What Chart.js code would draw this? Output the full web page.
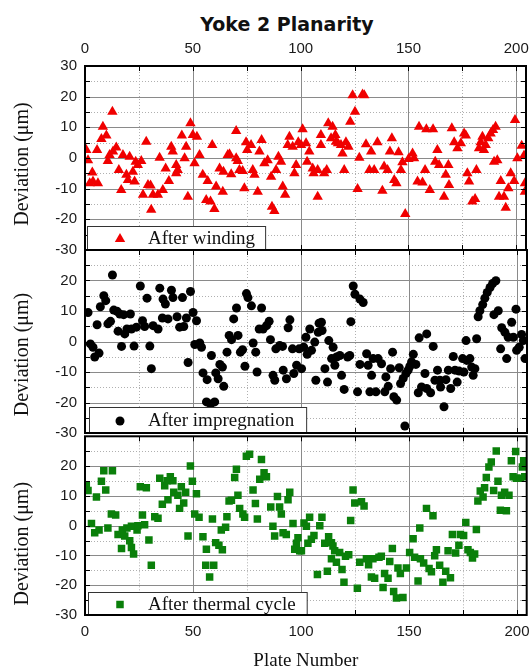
<!DOCTYPE html>
<html>
<head>
<meta charset="utf-8">
<script src="https://cdn.jsdelivr.net/npm/chart.js@4.4.1/dist/chart.umd.min.js"></script>
<style>
  body { margin: 0; background: #fff; width: 532px; height: 669px; overflow: hidden; position: relative; }
  canvas { position: absolute; left: 0; }
  #title { position: absolute; left: 137px; width: 300px; top: 13px; line-height: 20px; text-align: center;
           font: bold 19px "DejaVu Sans"; color: #111; }
</style>
</head>
<body>
<div id="title">Yoke 2 Planarity</div>
<canvas id="c1" width="532" height="258" style="top:0"></canvas>
<canvas id="c2" width="532" height="200" style="top:241px"></canvas>
<canvas id="c3" width="532" height="238" style="top:431px"></canvas>
<script>
// tick labels
const plateTicks = [0, 50, 100, 150, 200];
const devTicks = [-30, -20, -10, 0, 10, 20, 30];

// [plate number, deviation (um)]
const afterWinding = [
  [0.6,2.6],[1.4,-0.7],[2.2,-8.2],[3.4,-4.7],[3.7,-7.7],[5.6,2.6],[6.0,-8.2],[7.6,6.2],[8.3,10.2],[9.9,7.3],
  [10.6,-1.0],[11.4,1.0],[12.7,15.1],[13.0,2.1],[14.5,3.4],[15.7,-3.9],[16.8,-10.4],[17.6,1.0],[19.2,-5.5],[19.9,-7.2],
  [20.7,0.4],[22.2,-4.5],[23.0,-7.7],[23.5,-1.2],[24.5,-2.3],[26.1,-1.0],[26.9,-12.0],[28.4,5.3],[29.2,-8.8],[30.4,-9.0],
  [30.7,-16.9],[31.5,-12.0],[33.8,-12.0],[34.6,0.1],[36.1,-10.4],[37.4,-3.4],[38.9,-7.5],[40.0,3.7],[40.7,2.1],[42.3,-2.3],
  [42.3,-5.0],[43.0,-3.9],[44.9,7.3],[46.2,-0.1],[46.9,3.7],[47.7,-12.6],[48.9,11.3],[50.0,7.5],[50.8,-1.7],[51.9,6.9],
  [53.1,1.0],[54.6,-5.5],[56.2,-13.7],[56.9,-7.5],[58.2,-14.2],[59.0,4.2],[60.0,-16.6],[60.8,-9.3],[62.4,-3.4],[63.9,-11.0],
  [64.2,-4.5],[66.2,1.0],[67.0,1.2],[67.8,-5.3],[70.1,-0.1],[70.1,8.8],[70.8,-1.0],[71.6,-3.9],[73.1,-4.2],[73.9,-9.9],
  [74.7,5.1],[75.2,2.6],[77.0,4.2],[77.8,-3.9],[78.6,-5.5],[80.1,-11.0],[80.9,2.1],[81.9,5.9],[83.2,-1.7],[84.7,-0.7],
  [86.3,-6.1],[86.7,-15.9],[87.8,-17.3],[88.6,-3.9],[89.7,0.4],[90.9,-1.2],[91.7,-9.3],[92.8,-12.0],[94.0,4.2],[94.8,6.9],
  [96.3,3.7],[97.1,-5.0],[97.9,-2.3],[98.9,5.1],[100.2,4.2],[100.9,9.4],[102.5,4.8],[103.0,-1.2],[104.0,2.1],[105.6,-3.4],
  [106.0,-5.0],[107.9,-3.9],[107.9,-12.6],[109.4,7.5],[109.4,4.2],[110.9,-5.0],[112.1,-3.9],[112.8,11.3],[114.1,6.4],[114.8,10.2],
  [116.1,7.5],[116.4,5.3],[117.3,4.8],[118.7,4.2],[119.4,1.5],[120.2,-3.9],[121.0,5.1],[122.2,3.7],[123.0,11.8],[124.1,20.5],
  [125.2,15.1],[126.4,-10.1],[127.2,0.1],[128.7,20.7],[129.5,20.5],[130.3,4.5],[131.9,-3.9],[132.7,2.1],[134.1,-3.9],[135.6,5.1],
  [137.9,-10.7],[138.7,-2.8],[140.3,-3.9],[141.4,2.1],[142.3,6.4],[143.4,-7.2],[144.4,-8.2],[145.4,1.9],[146.5,-3.9],[147.2,-1.4],
  [148.5,-18.3],[150.0,-0.3],[151.9,1.5],[152.6,-0.1],[154.2,-7.7],[154.9,10.2],[156.5,-8.0],[157.7,-3.9],[158.3,9.4],[159.9,-10.4],
  [161.4,9.4],[162.4,-1.2],[163.4,2.6],[164.2,-2.3],[166.5,-12.6],[167.3,-5.5],[168.5,-2.3],[168.8,-8.8],[170.1,9.7],[171.2,5.1],
  [172.7,3.2],[174.3,4.8],[175.8,8.0],[176.6,7.3],[177.3,-5.0],[178.1,-7.7],[179.6,-14.2],[180.9,-13.4],[181.5,-3.9],[182.7,3.2],
  [183.5,5.1],[184.3,6.9],[185.0,2.6],[185.8,4.2],[187.0,6.4],[188.1,8.0],[189.2,9.1],[189.7,-1.2],[190.4,10.2],[191.2,-0.7],
  [192.0,-12.6],[192.8,-7.5],[194.3,-12.6],[195.1,-16.2],[196.3,-9.9],[197.4,-5.0],[199.0,-7.5],[199.4,12.4],[200.5,-0.1],[202.5,4.0],
  [203.6,0.8],[204.0,-8.2],[204.0,-11.0]
];

const afterImpregnation = [
  [1.4,9.5],[2.5,-0.8],[3.7,-1.9],[4.5,-5.1],[5.6,5.5],[6.5,-3.8],[7.1,11.4],[8.7,15.0],[9.6,13.4],[10.6,5.8],
  [11.8,6.6],[12.7,21.8],[13.3,10.3],[14.8,9.9],[15.3,3.4],[16.1,9.0],[16.9,-1.6],[17.9,8.8],[18.4,2.5],[19.4,4.1],
  [21.0,9.0],[21.5,4.1],[22.7,-1.5],[23.8,4.7],[25.6,18.2],[26.6,6.8],[27.6,4.9],[28.7,14.2],[30.0,-1.5],[30.7,-8.9],
  [31.5,5.2],[33.8,4.1],[34.6,17.5],[35.8,7.7],[36.1,13.9],[37.2,12.3],[38.4,7.4],[40.0,16.8],[40.7,14.4],[42.6,8.1],
  [43.8,4.7],[45.1,14.4],[45.7,4.9],[46.9,7.7],[47.7,-6.9],[48.8,16.4],[50.0,9.5],[50.8,-1.0],[51.6,6.8],[53.1,-0.5],
  [53.9,-1.9],[54.6,-10.3],[56.2,-19.8],[56.5,-12.5],[58.1,-20.5],[58.5,-4.6],[60.0,-19.8],[60.5,-10.3],[61.6,-12.2],[62.4,-7.5],
  [63.6,-8.4],[64.2,-14.7],[65.7,-3.5],[66.7,2.0],[67.8,0.6],[68.8,7.4],[70.1,11.0],[70.8,2.0],[71.9,-3.5],[72.9,-2.7],
  [74.0,-8.1],[74.7,15.7],[75.4,14.4],[77.0,11.7],[77.8,-0.5],[79.0,-3.5],[79.6,-10.0],[80.6,4.1],[81.7,11.0],[82.4,4.1],
  [84.0,5.2],[85.2,6.6],[85.8,0.6],[87.0,-11.1],[87.8,-12.7],[88.3,-2.4],[90.1,-1.3],[91.4,-1.6],[91.7,-9.4],[93.2,-12.2],
  [94.0,4.5],[94.8,7.1],[96.0,-2.4],[96.6,-10.5],[97.9,-7.8],[99.1,-2.4],[100.2,-8.9],[101.2,-1.9],[102.2,1.4],[102.8,-4.2],
  [104.0,4.1],[104.8,-2.9],[106.3,-0.2],[106.8,-12.7],[107.9,3.0],[108.3,6.0],[109.4,6.3],[109.7,3.6],[111.0,-8.9],[112.2,-13.3],
  [112.8,0.3],[114.1,-5.6],[114.8,-1.9],[115.6,-7.8],[116.4,-5.1],[117.9,-4.6],[118.7,-11.1],[119.9,-15.7],[121.5,-5.1],[122.5,-4.6],
  [123.0,6.5],[124.1,18.2],[124.9,15.5],[126.1,-16.5],[127.2,13.9],[127.2,-7.5],[128.7,12.8],[130.3,-4.0],[131.0,-7.8],[131.8,-16.5],
  [132.6,-11.1],[133.3,-5.6],[134.6,-16.5],[135.6,-5.6],[137.2,-7.3],[138.7,-16.5],[139.2,-11.6],[140.3,-14.7],[141.4,-8.9],[142.3,-3.5],
  [142.9,-18.1],[144.2,-19.2],[145.4,-8.6],[146.0,-13.8],[147.2,-12.1],[148.0,-27.7],[148.5,-10.5],[149.5,-9.4],[150.3,-8.1],[151.1,-6.7],
  [151.9,-4.2],[153.1,-7.5],[154.2,-16.8],[154.6,1.2],[155.7,-14.9],[157.3,-10.5],[158.1,2.5],[158.1,-15.4],[159.9,-16.8],[161.1,-1.6],
  [161.9,-12.7],[163.1,-9.4],[164.2,-12.7],[164.5,-14.9],[166.1,-21.4],[167.0,-12.5],[168.1,-9.4],[169.2,-15.4],[170.4,-4.9],[171.2,-9.4],
  [172.2,-13.3],[173.1,-9.7],[174.7,-5.6],[175.3,-10.0],[176.3,0.3],[176.6,-6.2],[178.1,-5.6],[178.9,-8.4],[179.6,-11.1],[180.4,-8.9],
  [181.2,0.9],[181.9,8.1],[182.7,10.1],[184.0,12.1],[185.0,14.2],[186.1,16.1],[187.4,17.7],[188.6,19.0],[189.2,8.8],[190.1,19.9],
  [191.2,10.1],[192.3,-2.4],[192.8,4.5],[194.3,3.0],[195.1,-5.6],[195.8,1.4],[197.4,6.3],[198.2,1.4],[199.4,10.6],[199.7,-2.9],
  [200.9,-1.9],[202.0,2.3],[202.8,0.3],[203.6,-5.6]
];

const afterThermalCycle = [
  [0.6,13.4],[1.4,11.8],[3.0,0.7],[4.5,-2.4],[5.3,9.6],[6.5,-1.5],[7.6,14.9],[8.7,18.4],[9.6,12.0],[10.6,-0.8],
  [12.2,3.9],[12.7,18.4],[14.2,3.6],[15.3,-3.0],[16.9,-7.7],[17.3,-1.5],[18.4,-3.5],[19.4,-0.8],[20.7,-5.1],[21.5,-7.3],
  [21.5,-0.2],[22.5,-9.5],[24.1,-1.5],[24.5,0.0],[25.6,13.1],[26.6,3.6],[27.6,0.3],[28.4,12.7],[29.6,-4.8],[30.7,-13.3],
  [32.3,3.0],[33.8,2.5],[34.6,15.9],[35.8,7.2],[36.9,13.4],[38.0,15.1],[38.4,8.7],[39.5,16.4],[40.7,15.1],[41.1,11.2],
  [43.0,10.2],[43.8,5.8],[44.6,13.1],[45.7,7.6],[46.6,11.2],[47.7,-3.5],[48.8,20.0],[49.7,14.9],[50.8,3.9],[51.6,10.7],
  [52.8,2.8],[54.6,-3.7],[55.9,-13.3],[56.2,-7.9],[57.7,-17.2],[59.0,2.2],[59.6,-13.3],[60.5,-5.7],[62.0,-6.6],[63.1,-1.5],
  [63.6,-8.1],[65.1,-0.5],[65.7,3.0],[66.7,8.3],[67.8,8.5],[69.3,16.2],[70.1,18.9],[70.8,10.2],[71.6,5.8],[73.1,3.9],
  [73.9,2.8],[74.7,23.3],[76.2,24.0],[77.8,12.0],[78.9,7.4],[79.8,2.2],[80.9,15.6],[81.7,22.2],[82.9,17.8],[84.0,16.4],
  [86.0,6.3],[87.0,-0.2],[87.8,-3.5],[89.1,9.8],[90.1,6.3],[90.9,3.9],[91.7,-2.4],[93.2,-3.0],[94.0,8.7],[94.8,11.2],
  [96.3,0.7],[97.1,-7.9],[97.9,-5.9],[98.6,-4.1],[99.4,-8.4],[100.2,-8.4],[101.4,0.9],[102.5,-0.2],[103.2,-5.9],[104.0,2.8],
  [104.8,-4.6],[106.0,-3.3],[107.6,-16.4],[108.7,0.0],[109.7,2.8],[111.0,-5.9],[112.2,-15.3],[112.8,-3.7],[114.1,-5.7],[114.1,-11.1],
  [114.8,-6.8],[115.6,-8.4],[116.4,-12.3],[117.9,-9.0],[119.0,-14.7],[119.9,-19.0],[120.6,-10.3],[122.1,-9.8],[123.0,1.7],[124.1,12.0],
  [124.9,7.6],[126.1,-21.0],[127.2,-12.3],[128.0,8.0],[129.2,6.6],[130.3,-11.1],[131.3,-13.1],[132.6,-17.2],[133.3,-11.1],[134.1,-17.7],
  [136.1,-10.6],[137.2,-10.3],[138.0,-20.8],[138.7,-16.1],[140.3,-17.7],[141.1,-12.0],[142.3,-7.7],[142.9,-22.1],[144.2,-24.3],[144.9,-14.2],
  [146.0,-16.1],[147.2,-24.1],[148.8,-14.2],[150.3,-9.0],[151.9,-4.4],[152.6,-10.6],[154.2,-18.6],[155.0,-0.8],[155.3,-11.1],[156.8,-12.5],
  [158.1,5.8],[159.3,-14.4],[160.4,-15.5],[161.1,3.3],[161.9,-10.1],[162.7,-8.1],[164.2,-13.3],[165.7,-19.0],[167.0,-15.3],[168.1,-8.4],
  [169.2,-17.5],[170.1,-3.0],[171.6,-9.2],[173.1,-6.6],[173.8,-3.0],[175.3,-3.3],[176.3,1.1],[177.3,-8.1],[178.4,-9.0],[179.4,-10.9],
  [180.4,-9.5],[181.2,-1.3],[181.9,8.3],[183.0,11.6],[184.3,9.6],[185.0,12.7],[185.8,16.2],[187.0,19.7],[188.1,21.4],[189.2,11.8],
  [190.4,25.1],[191.2,14.9],[192.3,5.2],[192.8,10.2],[194.3,11.2],[195.1,5.0],[196.3,10.2],[197.4,21.8],[198.2,16.4],[199.4,24.9],
  [199.7,15.9],[201.6,15.9],[202.5,19.7],[203.1,21.8],[203.6,16.4]
];

// grid, inner ticks, frame, legend box and y title for each panel
const frame = {
  id: 'frame',
  beforeDatasetsDraw(chart) {
    const { ctx, chartArea: a, scales: { x, y } } = chart;
    ctx.save();
    ctx.lineWidth = 1;
    const line = (x1, y1, x2, y2, major) => {
      ctx.strokeStyle = major ? '#8a8a8a' : '#b0b0b0';
      ctx.setLineDash(major ? [] : [1, 2]);
      ctx.beginPath(); ctx.moveTo(x1, y1); ctx.lineTo(x2, y2); ctx.stroke();
    };
    for (let v = -25; v <= 25; v += 5) {
      const p = Math.round(y.getPixelForValue(v)) + 0.5;
      line(a.left, p, a.right, p, v % 10 === 0);
    }
    for (let v = 25; v <= 200; v += 25) {
      const p = Math.round(x.getPixelForValue(v)) + 0.5;
      line(p, a.top, p, a.bottom, v % 50 === 0);
    }
    ctx.restore();
  },
  afterDatasetsDraw(chart, args, o) {
    const { ctx, chartArea: a, scales: { x, y } } = chart;
    ctx.save();
    ctx.setLineDash([]);
    ctx.strokeStyle = '#000';
    ctx.lineWidth = 1;
    ctx.beginPath();
    for (let v = -25; v <= 25; v += 5) {
      const p = Math.round(y.getPixelForValue(v)) + 0.5;
      ctx.moveTo(a.left, p); ctx.lineTo(a.left + 5, p);
      ctx.moveTo(a.right, p); ctx.lineTo(a.right - 5, p);
    }
    for (let v = 25; v <= 200; v += 25) {
      const p = Math.round(x.getPixelForValue(v)) + 0.5;
      ctx.moveTo(p, a.top); ctx.lineTo(p, a.top + 5);
      ctx.moveTo(p, a.bottom); ctx.lineTo(p, a.bottom - 5);
    }
    ctx.stroke();

    // legend
    ctx.font = '19px "Liberation Serif"';
    const tw = ctx.measureText(o.label).width;
    const bx = a.left + o.legendDx, bh = o.legendH, by = a.bottom - bh, bw = tw + 71;
    ctx.fillStyle = '#fff';
    ctx.fillRect(bx, by, bw, bh);
    ctx.strokeStyle = '#333';
    ctx.strokeRect(bx + 0.5, by + 0.5, bw, bh);
    ctx.fillStyle = o.color;
    Chart.helpers.drawPoint(ctx, { pointStyle: o.style, radius: o.radius, rotation: 0, borderWidth: 0 }, a.left + 35, by + bh / 2 + 1);
    ctx.fillStyle = '#111';
    ctx.textBaseline = 'middle';
    ctx.textAlign = 'left';
    ctx.fillText(o.label, a.left + 63, by + bh / 2 + 1.5);

    // frame
    ctx.strokeStyle = '#000';
    ctx.lineWidth = 2;
    ctx.strokeRect(a.left, a.top, a.width, a.height);

    // y title
    ctx.translate(23, (a.top + a.bottom) / 2 + o.titleShift);
    ctx.rotate(-Math.PI / 2);
    ctx.font = '20px "Liberation Serif"';
    ctx.textAlign = 'center';
    ctx.fillStyle = '#111';
    ctx.fillText('Deviation (\u03bcm)', 0, 0);
    ctx.restore();
  }
};

const tickFont = { family: 'Liberation Sans', size: 15 };

function makeChart(id, series, opt) {
  return new Chart(document.getElementById(id), {
    type: 'scatter',
    data: {
      datasets: [{
        data: series.map(([x, y]) => ({ x, y })),
        pointStyle: opt.style,
        pointRadius: opt.radius,
        pointHoverRadius: opt.radius,
        backgroundColor: opt.color,
        borderWidth: 0,
        clip: 0
      }]
    },
    options: {
      responsive: false,
      animation: false,
      events: [],
      layout: { padding: opt.padding },
      plugins: {
        legend: { display: false },
        tooltip: { enabled: false },
        frame: {
          label: opt.label, style: opt.style, radius: opt.radius, color: opt.color,
          legendDx: opt.legendDx, legendH: opt.legendH, titleShift: opt.titleShift
        }
      },
      scales: {
        x: {
          type: 'linear', min: 0, max: 204.5,
          position: opt.xPos, display: opt.xPos !== null,
          afterBuildTicks: s => { s.ticks = plateTicks.map(v => ({ value: v })); },
          ticks: { padding: 8, maxRotation: 0, autoSkip: false, color: '#1a1a1a', font: tickFont },
          grid: { display: false, drawTicks: false },
          border: { display: false },
          title: opt.xTitle
            ? { display: true, text: opt.xTitle, color: '#111', padding: 0,
                font: { family: 'Liberation Serif', size: 19, lineHeight: 0.8 } }
            : { display: false },
          afterFit: s => { s.height = opt.xHeight; s.paddingLeft = 0; s.paddingRight = 0; }
        },
        y: {
          type: 'linear', min: -30, max: 30,
          afterBuildTicks: s => { s.ticks = devTicks.map(v => ({ value: v })); },
          ticks: {
            padding: 8, autoSkip: false, color: '#1a1a1a', font: tickFont,
            callback: v => (opt.hideTop && v === 30) ? '' : v
          },
          grid: { display: false, drawTicks: false },
          border: { display: false },
          afterFit: s => { s.width = 85; s.paddingTop = 0; s.paddingBottom = 0; }
        }
      }
    },
    plugins: [frame]
  });
}

makeChart('c1', afterWinding, {
  label: 'After winding', style: 'triangle', radius: 6, color: '#f00000',
  padding: { left: 0, right: 5, top: 0, bottom: 8 },
  xPos: 'top', xHeight: 66, hideTop: false, legendDx: 2, legendH: 24, titleShift: 6
});
makeChart('c2', afterImpregnation, {
  label: 'After impregnation', style: 'circle', radius: 4.5, color: '#000',
  padding: { left: 0, right: 5, top: 9, bottom: 8 },
  xPos: null, xHeight: 0, hideTop: true, legendDx: 4, legendH: 26, titleShift: 13
});
makeChart('c3', afterThermalCycle, {
  label: 'After thermal cycle', style: 'rect', radius: 5.3, color: '#0a7f0a',
  padding: { left: 0, right: 5, top: 2, bottom: 0 },
  xPos: 'bottom', xHeight: 54, xTitle: 'Plate Number', hideTop: true, legendDx: 3, legendH: 23, titleShift: 18
});
</script>
</body>
</html>
